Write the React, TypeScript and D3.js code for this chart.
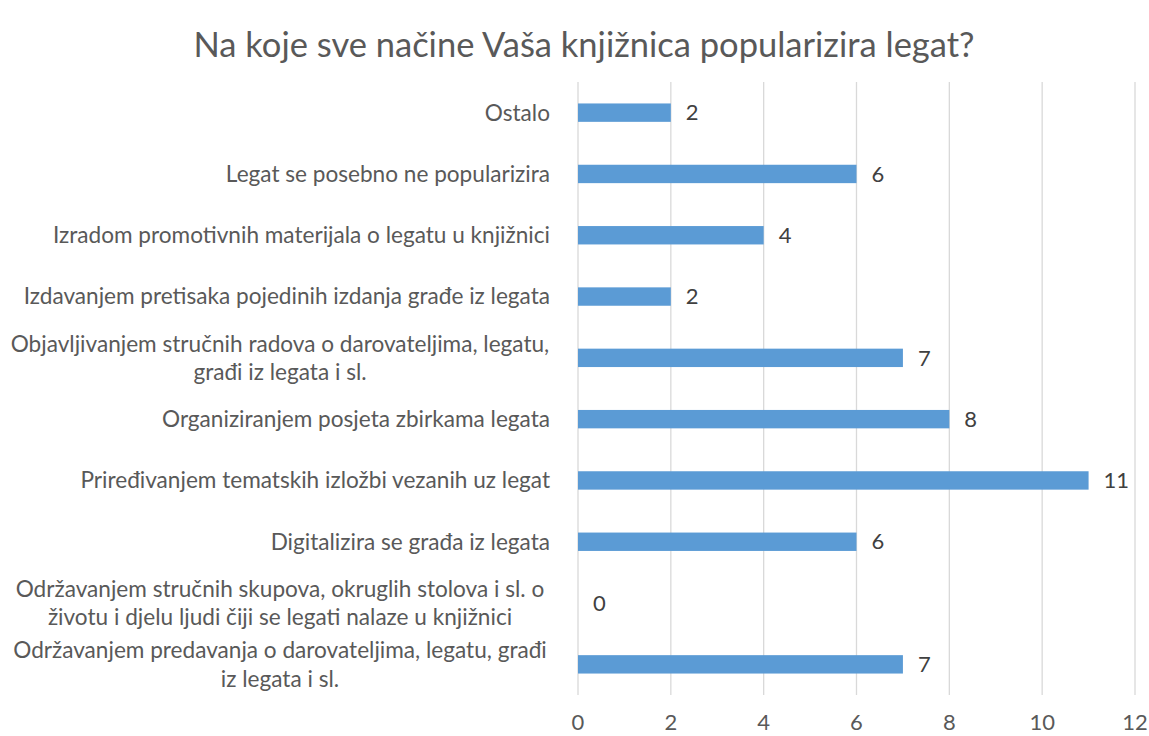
import { useRef, useEffect } from "react";
import * as d3 from "d3";

const categories = [
  "Ostalo",
  "Legat se posebno ne popularizira",
  "Izradom promotivnih materijala o legatu u knjižnici",
  "Izdavanjem pretisaka pojedinih izdanja građe iz legata",
  "Objavljivanjem stručnih radova o darovateljima, legatu,\ngrađi iz legata i sl.",
  "Organiziranjem posjeta zbirkama legata",
  "Priređivanjem tematskih izložbi vezanih uz legat",
  "Digitalizira se građa iz legata",
  "Održavanjem stručnih skupova, okruglih stolova i sl. o\nživotu i djelu ljudi čiji se legati nalaze u knjižnici",
  "Održavanjem predavanja o darovateljima, legatu, građi\niz legata i sl.",
];
const values = [2, 6, 4, 2, 7, 8, 11, 6, 0, 7];
const ticks = [0, 2, 4, 6, 8, 10, 12];

const W = 1149, H = 736;
const FONT = "Lato, 'Open Sans', sans-serif";

export default function App() {
  const ref = useRef<SVGSVGElement>(null);

  useEffect(() => {
    if (!ref.current) return;
    const svg = d3.select(ref.current);
    svg.selectAll("*").remove();

    const left = 578, right = 1135, top = 82, bottom = 695;
    const x = d3.scaleLinear().domain([0, 12]).range([left, right]);
    const y = d3.scaleBand<string>().domain(categories).range([top, bottom]).paddingInner(0.7).paddingOuter(0.35);

    svg.append("rect").attr("width", W).attr("height", H).attr("fill", "#fff");

    svg.append("text")
      .attr("x", 584).attr("y", 57)
      .attr("text-anchor", "middle")
      .attr("fill", "#595959")
      .attr("font-size", 34.5)
      .attr("font-family", FONT)
      .text("Na koje sve načine Vaša knjižnica popularizira legat?");

    // gridlines
    svg.append("g").selectAll("line").data(ticks).join("line")
      .attr("x1", d => x(d)).attr("x2", d => x(d))
      .attr("y1", top).attr("y2", bottom)
      .attr("stroke", "#d9d9d9").attr("stroke-width", 1.3);

    // tick labels
    svg.append("g").selectAll("text").data(ticks).join("text")
      .attr("x", d => x(d)).attr("y", 730)
      .attr("text-anchor", "middle")
      .attr("fill", "#595959")
      .attr("font-size", 22)
      .attr("font-family", FONT)
      .text(d => d);

    // bars
    svg.append("g").selectAll("rect").data(categories).join("rect")
      .attr("x", x(0))
      .attr("y", d => y(d)!)
      .attr("width", (_, i) => x(values[i]) - x(0))
      .attr("height", y.bandwidth())
      .attr("fill", "#5b9bd5");

    // value labels
    svg.append("g").selectAll("text").data(categories).join("text")
      .attr("x", (_, i) => x(values[i]) + 15)
      .attr("y", d => y(d)! + y.bandwidth() / 2)
      .attr("dy", "0.35em")
      .attr("fill", "#404040")
      .attr("font-size", 22)
      .attr("font-family", FONT)
      .text((_, i) => values[i]);

    // category labels
    const lab = svg.append("g").selectAll("text").data(categories).join("text")
      .attr("fill", "#595959")
      .attr("font-size", 22.6)
      .attr("font-family", FONT);
    lab.each(function (d) {
      const lines = d.split("\n");
      const cy = y(d)! + y.bandwidth() / 2;
      const lh = 28.5;
      const t = d3.select(this);
      lines.forEach((ln, j) => {
        t.append("tspan")
          .attr("x", lines.length === 1 ? 550 : 280)
          .attr("text-anchor", lines.length === 1 ? "end" : "middle")
          .attr("y", cy + (j - (lines.length - 1) / 2) * lh)
          .attr("dy", "0.35em")
          .text(ln);
      });
    });
  }, []);

  return <svg ref={ref} width={W} height={H} style={{ position: "absolute", left: 0, top: 0 }} />;
}
